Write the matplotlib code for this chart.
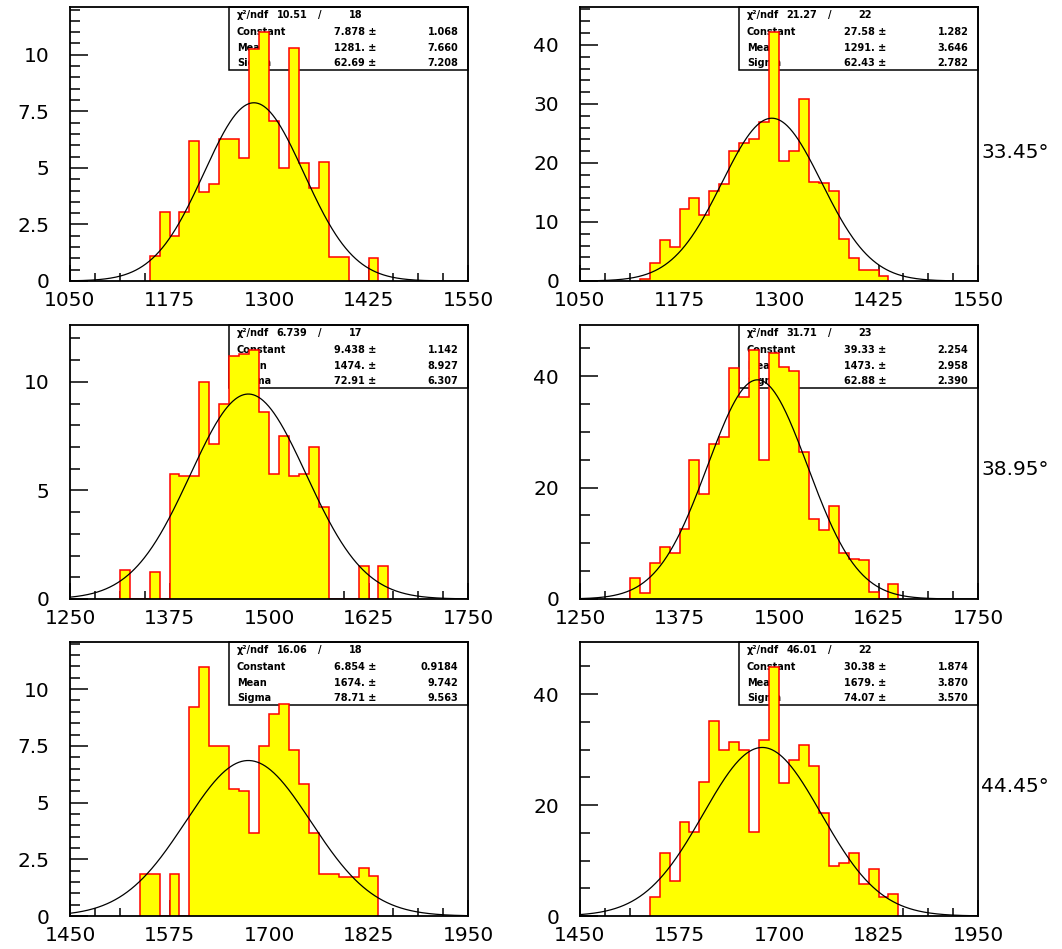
import numpy as np
import matplotlib.pyplot as plt
from matplotlib.patches import Rectangle
from matplotlib.ticker import FormatStrFormatter

bin_width = 12.5
angles = ["33.45°", "38.95°", "44.45°"]
x_ranges = [(1050, 1550), (1250, 1750), (1450, 1950)]

# weighted counts, first bin low edge given by *_start
r1_left_start = 1150.0
r1_left = [1.09, 3.07, 1.98, 3.07, 6.18, 3.94, 4.29, 6.27, 6.27, 5.43, 10.24, 11.01,
           7.07, 4.98, 10.28, 5.21, 4.09, 5.28, 1.04, 1.04, 0, 0, 1.01]
r1_right_start = 1125.0
r1_right = [0.4, 3.0, 6.9, 5.7, 12.2, 14.0, 11.2, 15.2, 16.4, 22.0, 23.3, 24.0, 27.0,
            42.2, 20.4, 22.0, 30.9, 16.8, 16.6, 15.3, 7.1, 3.9, 1.9, 1.9, 0.9]
r2_left_start = 1312.5
r2_left = [1.35, 0, 0, 1.24, 0, 5.74, 5.66, 5.66, 10.0, 7.13, 8.96, 11.21, 11.27, 11.47,
           8.6, 5.74, 7.49, 5.66, 5.74, 7.02, 4.23, 0, 0, 0, 1.5, 0, 1.5]
r2_right_start = 1312.5
r2_right = [3.8, 1.0, 6.5, 9.3, 8.3, 12.6, 25.0, 18.8, 27.9, 29.0, 41.4, 36.2, 44.7, 25.0,
            44.2, 41.7, 41.0, 26.4, 14.4, 12.3, 16.7, 8.3, 7.2, 7.0, 1.3, 0, 2.7]
r3_left_start = 1537.5
r3_left = [1.86, 1.86, 0, 1.86, 0, 9.2, 10.98, 7.5, 7.5, 5.62, 5.51, 3.65, 7.5, 8.9, 9.34,
           7.3, 5.81, 3.65, 1.83, 1.83, 1.74, 1.74, 2.12, 1.76]
r3_right_start = 1537.5
r3_right = [3.5, 11.4, 6.3, 16.9, 15.2, 24.1, 35.1, 29.9, 31.4, 29.9, 15.1, 31.8, 44.9,
            24.0, 28.2, 30.8, 27.1, 18.6, 9.1, 9.5, 11.3, 5.7, 8.4, 3.5, 4.0]

# gaussian fit results: chi2, ndf, constant, mean, sigma (value, error)
fit_chi2 = [["10.51", "21.27"], ["6.739", "31.71"], ["16.06", "46.01"]]
fit_ndf = [["18", "22"], ["17", "23"], ["18", "22"]]
fit_const = [[("7.878", "1.068"), ("27.58", "1.282")],
             [("9.438", "1.142"), ("39.33", "2.254")],
             [("6.854", "0.9184"), ("30.38", "1.874")]]
fit_mean = [[("1281.", "7.660"), ("1291.", "3.646")],
            [("1474.", "8.927"), ("1473.", "2.958")],
            [("1674.", "9.742"), ("1679.", "3.870")]]
fit_sigma = [[("62.69", "7.208"), ("62.43", "2.782")],
             [("72.91", "6.307"), ("62.88", "2.390")],
             [("78.71", "9.563"), ("74.07", "3.570")]]

starts = [[r1_left_start, r1_right_start], [r2_left_start, r2_right_start],
          [r3_left_start, r3_right_start]]
counts = [[r1_left, r1_right], [r2_left, r2_right], [r3_left, r3_right]]

y_major = [[2.5, 10], [5, 20], [2.5, 20]]
y_minor = [[0.5, 2], [1, 5], [0.5, 5]]

W, H = 1062, 949
fig = plt.figure(figsize=(W / 100, H / 100), dpi=100)
col_x = [70, 580]
row_top = [7, 325, 642]
ax_w, ax_h = 398, 274

for r in range(3):
    lo, hi = x_ranges[r]
    for c in range(2):
        ax = fig.add_axes([col_x[c] / W, 1 - (row_top[r] + ax_h) / H, ax_w / W, ax_h / H])
        vals = np.array(counts[r][c], dtype=float)
        edges = starts[r][c] + bin_width * np.arange(len(vals) + 1)
        ax.stairs(vals, edges, fill=True, color="#ffff00", zorder=2)
        ax.stairs(vals, edges, baseline=0, color="red", lw=1.1, zorder=2.1)

        const = float(fit_const[r][c][0])
        mean = float(fit_mean[r][c][0])
        sigma = float(fit_sigma[r][c][0])
        xs = np.linspace(lo, hi, 600)
        ax.plot(xs, const * np.exp(-0.5 * ((xs - mean) / sigma) ** 2),
                color="black", lw=0.9, zorder=3)

        ymax = 1.1 * vals.max()
        ax.set_xlim(lo, hi)
        ax.set_ylim(0, ymax)
        ax.set_xticks(np.arange(lo, hi + 1, 125))
        ax.set_xticks(np.arange(lo, hi + 1, 31.25), minor=True)
        ax.set_yticks(np.arange(0, ymax, y_major[r][c]))
        ax.set_yticks(np.arange(0, ymax, y_minor[r][c]), minor=True)
        ax.yaxis.set_major_formatter(FormatStrFormatter("%g"))
        ax.tick_params(which="both", direction="in", top=False, right=False,
                       width=1.1, labelsize=14.5)
        ax.tick_params(axis="x", which="major", length=11.5, pad=7)
        ax.tick_params(axis="x", which="minor", length=5.8)
        ax.tick_params(axis="y", which="major", length=13, pad=15)
        ax.tick_params(axis="y", which="minor", length=7)
        for s in ax.spines.values():
            s.set_linewidth(1.3)
            s.set_zorder(4)

        # stat box (drawn under the histogram like in the original)
        ax.add_patch(Rectangle((0.40, 0.77), 0.60, 0.23, transform=ax.transAxes,
                               facecolor="white", edgecolor="black", lw=1.1,
                               zorder=1, clip_on=False))
        tkw = dict(transform=ax.transAxes, fontsize=7, fontweight="bold",
                   va="center", zorder=1.5)
        ys = [0.971, 0.908, 0.852, 0.795]
        ax.text(0.419, ys[0], "χ²/ndf", ha="left", **tkw)
        ax.text(0.519, ys[0], fit_chi2[r][c], ha="left", **tkw)
        ax.text(0.628, ys[0], "/", ha="center", **tkw)
        ax.text(0.70, ys[0], fit_ndf[r][c], ha="left", **tkw)
        rows = [("Constant", fit_const[r][c]), ("Mean", fit_mean[r][c]),
                ("Sigma", fit_sigma[r][c])]
        for yy, (name, (v, e)) in zip(ys[1:], rows):
            ax.text(0.419, yy, name, ha="left", **tkw)
            ax.text(0.77, yy, v + " ±", ha="right", **tkw)
            ax.text(0.976, yy, e, ha="right", **tkw)

    yc = 1 - (row_top[r] + ax_h / 2 + 8) / H
    fig.text(981 / W, yc, angles[r], fontsize=14.5, ha="left", va="center")

fig.savefig("out.png", dpi=100)
